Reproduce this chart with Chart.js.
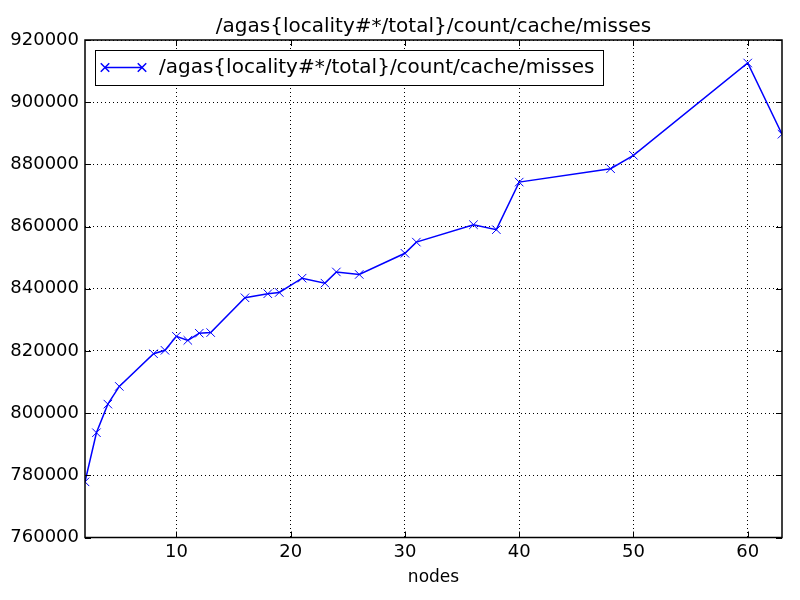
<!DOCTYPE html>
<html>
<head>
<meta charset="utf-8">
<script src="https://cdn.jsdelivr.net/npm/chart.js@4/dist/chart.umd.min.js"></script>
<style>
  body { margin: 0; background: #fff; }
  #wrap { width: 800px; height: 600px; }
</style>
</head>
<body>
<div id="wrap"><canvas id="missChart" width="800" height="600"></canvas></div>
<script>
// values
const nodes = [2, 3, 4, 5, 8, 9, 10, 11, 12, 13, 16, 18, 19, 21, 23, 24, 26, 30, 31, 36, 38, 40, 48, 50, 60, 63];
const misses = [777900, 793700, 802900, 808600, 819100, 820200, 824700, 823400, 825700, 825900,
                837100, 838400, 838800, 843400, 841800, 845400, 844600, 851400, 855000, 860600,
                859000, 874300, 878600, 882900, 912600, 889700];
const xTicks = [10, 20, 30, 40, 50, 60];
const yTicks = [760000, 780000, 800000, 820000, 840000, 860000, 880000, 900000, 920000];
const metricName = '/agas{locality#*/total}/count/cache/misses';

const FONT = 'DejaVu Sans';
const TICK_SIZE = 18;
const TITLE_SIZE = 20;
Chart.defaults.font.family = FONT;
Chart.defaults.color = '#000';

// matplotlib-like frame, inward ticks and legend box inside the axes
const framePlugin = {
  id: 'frame',
  afterDraw(chart) {
    const ctx = chart.ctx;
    const a = chart.chartArea;
    const xs = chart.scales.x, ys = chart.scales.y;

    // legend
    ctx.save();
    ctx.fillStyle = '#fff';
    ctx.strokeStyle = '#000';
    ctx.lineWidth = 1;
    ctx.fillRect(95.5, 50.5, 508, 35);
    ctx.strokeRect(95.5, 50.5, 508, 35);
    ctx.strokeStyle = '#0000ff';
    ctx.lineWidth = 1.5;
    ctx.beginPath();
    ctx.moveTo(105, 67.5);
    ctx.lineTo(142, 67.5);
    ctx.stroke();
    [105, 142].forEach(px => {
      Chart.helpers.drawPoint(ctx, {pointStyle: 'crossRot', radius: 6, borderWidth: 1}, px, 67.5);
    });
    ctx.fillStyle = '#000';
    ctx.font = TITLE_SIZE + 'px "' + FONT + '"';
    ctx.textBaseline = 'middle';
    ctx.textAlign = 'left';
    ctx.fillText(metricName, 159, 68);
    ctx.restore();

    // frame + ticks
    ctx.save();
    ctx.strokeStyle = '#000';
    ctx.lineWidth = 1;
    ctx.beginPath();
    xTicks.forEach(v => {
      const px = Math.round(xs.getPixelForValue(v)) + 0.5;
      ctx.moveTo(px, a.bottom); ctx.lineTo(px, a.bottom - 6);
      ctx.moveTo(px, a.top); ctx.lineTo(px, a.top + 6);
    });
    yTicks.forEach(v => {
      const py = Math.round(ys.getPixelForValue(v)) + 0.5;
      ctx.moveTo(a.left, py); ctx.lineTo(a.left + 6, py);
      ctx.moveTo(a.right, py); ctx.lineTo(a.right - 6, py);
    });
    ctx.stroke();
    ctx.lineWidth = 1.5;
    ctx.strokeRect(a.left, a.top, a.right - a.left, a.bottom - a.top);
    ctx.restore();
  }
};

const ctx = document.getElementById('missChart').getContext('2d');
const missChart = new Chart(ctx, {
  type: 'line',
  data: {
    datasets: [{
      label: metricName,
      data: nodes.map((n, i) => ({x: n, y: misses[i]})),
      borderColor: '#0000ff',
      backgroundColor: '#0000ff',
      borderWidth: 1.5,
      pointStyle: 'crossRot',
      pointRadius: 6,
      pointBorderWidth: 1,
      pointBorderColor: '#0000ff',
      fill: false,
      tension: 0
    }]
  },
  options: {
    responsive: false,
    devicePixelRatio: 1,
    animation: false,
    layout: { padding: { left: 0, right: 18, top: 0, bottom: 8.5 } },
    scales: {
      x: {
        type: 'linear',
        min: 2,
        max: 63,
        afterBuildTicks: scale => { scale.ticks = xTicks.map(v => ({value: v})); },
        grid: { color: '#000', lineWidth: 1, drawTicks: false },
        border: { display: false, dash: [1, 3] },
        ticks: { font: {size: TICK_SIZE}, padding: 4, maxRotation: 0 },
        title: { display: true, text: 'nodes', font: {size: 17}, padding: {top: 0, bottom: 4} }
      },
      y: {
        type: 'linear',
        min: 760000,
        max: 920000,
        afterBuildTicks: scale => { scale.ticks = yTicks.map(v => ({value: v})); },
        afterFit: scale => { scale.width = 85; },
        grid: { color: '#000', lineWidth: 1, drawTicks: false },
        border: { display: false, dash: [1, 3] },
        ticks: { font: {size: TICK_SIZE}, padding: 6, callback: v => String(v) }
      }
    },
    plugins: {
      legend: { display: false },
      tooltip: { enabled: false },
      title: {
        display: true,
        text: metricName,
        fullSize: false,
        font: { size: TITLE_SIZE, weight: 'normal' },
        padding: { top: 15, bottom: 1 }
      }
    }
  },
  plugins: [framePlugin]
});
</script>
</body>
</html>
